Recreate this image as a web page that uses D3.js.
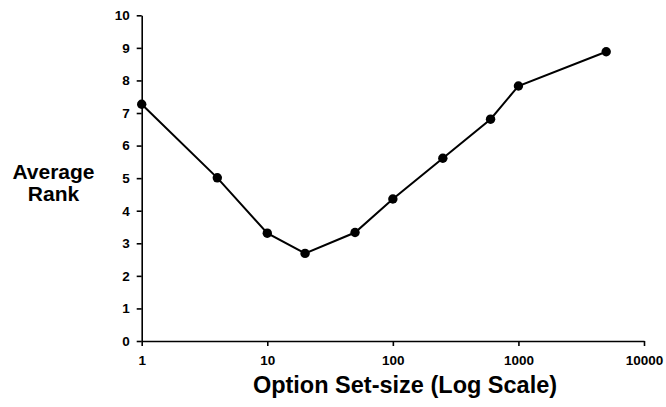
<!DOCTYPE html>
<html>
<head>
<meta charset="utf-8">
<script src="https://cdn.jsdelivr.net/npm/d3@7"></script>
<style>
  body { margin: 0; background: #fff; }
  svg { display: block; font-family: "Liberation Sans", Arial, sans-serif; }
  .axis path, .axis line { stroke: #000; stroke-width: 1.6px; }
  .axis text { font-size: 13.5px; font-weight: bold; fill: #000; }
</style>
</head>
<body>
<svg id="chart" width="666" height="407"></svg>
<script>
const setSize = [1, 4, 10, 20, 50, 100, 250, 600, 1000, 5000];
const avgRank = [7.27, 5.01, 3.31, 2.69, 3.33, 4.36, 5.61, 6.81, 7.83, 8.88];
const xTicks = [1, 10, 100, 1000, 10000];
const yTicks = [0, 1, 2, 3, 4, 5, 6, 7, 8, 9, 10];

const data = setSize.map((d, i) => ({ x: d, y: avgRank[i] }));

const width = 666, height = 407;
const margin = { top: 15.3, bottom: 66, left: 141.7, right: 22 };
const svg = d3.select("#chart");

const xScale = d3.scaleLog()
  .domain([1, 10000])
  .range([margin.left, width - margin.right]);

const yScale = d3.scaleLinear()
  .domain([0, 10])
  .range([height - margin.bottom, margin.top]);

// Axes
const xAxis = d3.axisBottom(xScale)
  .tickValues(xTicks)
  .tickFormat(d3.format("d"))
  .tickSize(5)
  .tickSizeOuter(0)
  .tickPadding(9);

const yAxis = d3.axisLeft(yScale)
  .tickValues(yTicks)
  .tickSize(5)
  .tickSizeOuter(0)
  .tickPadding(7);

svg.append("g")
  .attr("class", "axis")
  .attr("transform", `translate(0, ${height - margin.bottom})`)
  .call(xAxis)
  .call(g => g.selectAll("text").attr("font-family", null));

svg.append("g")
  .attr("class", "axis")
  .attr("transform", `translate(${margin.left}, 0)`)
  .call(yAxis)
  .call(g => g.selectAll("text").attr("font-family", null));

// Line
const line = d3.line()
  .x(d => xScale(d.x))
  .y(d => yScale(d.y));

svg.append("path")
  .datum(data)
  .attr("fill", "none")
  .attr("stroke", "#000")
  .attr("stroke-width", 2)
  .attr("d", line);

svg.selectAll("circle")
  .data(data)
  .enter()
  .append("circle")
  .attr("cx", d => xScale(d.x))
  .attr("cy", d => yScale(d.y))
  .attr("r", 4.7)
  .attr("fill", "#000");

// Titles
svg.append("text")
  .attr("x", 405)
  .attr("y", 393)
  .attr("text-anchor", "middle")
  .attr("font-size", 23.5)
  .attr("font-weight", "bold")
  .text("Option Set-size (Log Scale)");

const yTitle = svg.append("text")
  .attr("text-anchor", "middle")
  .attr("font-size", 21)
  .attr("font-weight", "bold");
yTitle.append("tspan").attr("x", 53.5).attr("y", 179).text("Average");
yTitle.append("tspan").attr("x", 53.5).attr("y", 201).text("Rank");
</script>
</body>
</html>
